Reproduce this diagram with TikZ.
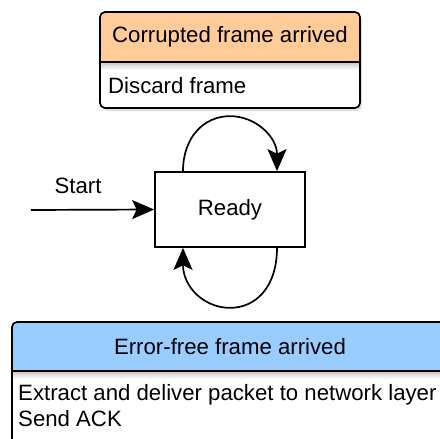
\documentclass[tikz,border=0pt]{standalone}
\usepackage{fontspec}
\setmainfont{Liberation Sans}
\usetikzlibrary{arrows.meta}
\definecolor{headorange}{HTML}{FFCC99}
\definecolor{headblue}{HTML}{99CCFF}
\begin{document}
\begin{tikzpicture}[x=1pt,y=1pt,
  every node/.style={font=\fontsize{22.2}{26}\selectfont, inner sep=0pt},
  boxframe/.style={draw=black, line width=1.7pt, rounded corners=5pt},
  boxshadow/.style={fill=black, opacity=0.12, rounded corners=5pt},
  statebox/.style={draw=black, line width=1.7pt, fill=white, minimum width=150pt, minimum height=75pt},
  flow/.style={draw=black, line width=1.7pt, -{Stealth[length=22pt, width=19pt, inset=4.5pt]}},
  divider/.style={draw=black, line width=1.7pt}]
\useasboundingbox (0,0) rectangle (440,-439);

% --- action on a corrupted frame ---
\coordinate (cNW) at (100,-12);
\coordinate (cSE) at (360,-108);
\coordinate (cdivL) at (100,-62);
\coordinate (cdivR) at (360,-62);
\fill[boxshadow] ([xshift=2pt,yshift=-3pt]cNW) rectangle ([xshift=2pt,yshift=-3pt]cSE);
\fill[white, rounded corners=5pt] (cNW) rectangle (cSE);
\fill[headorange, rounded corners=5pt] (cdivL) -- (cNW) -- (cNW -| cSE) [sharp corners] -- (cdivR) -- cycle;
\shade[top color=black!20, bottom color=white] ([yshift=-0.8pt]cdivL) rectangle ([xshift=-0.8pt,yshift=-8pt]cdivR);
\draw[boxframe] (cNW) rectangle (cSE);
\draw[divider] (cdivL) -- (cdivR);
\node (corruptTitle) at (230,-37) {Corrupted frame arrived};
\node[anchor=west] (corruptAct) at (108,-86) {Discard frame};

% --- the single state ---
\node[statebox] (ready) at (230,-209.5) {Ready};
\coordinate (startpt) at (31,-210);
\draw[flow] (startpt) -- (ready.west);
\node (startLabel) at (78,-186) {Start};

% --- self loops: half circles of radius 47 on short vertical legs ---
\coordinate (topPeak) at ([yshift=55pt]ready.north);
\coordinate (botPeak) at ([yshift=-60pt]ready.south);
\draw[flow] ([xshift=-47pt]ready.north) .. controls +(0,34pt) and +(-26pt,0) .. (topPeak)
  .. controls +(26pt,0) and +(0,34pt) .. ([xshift=47pt]ready.north);
\draw[flow] ([xshift=47pt]ready.south) .. controls +(0,-39pt) and +(26pt,0) .. (botPeak)
  .. controls +(-26pt,0) and +(0,-39pt) .. ([xshift=-47pt]ready.south);

% --- action on an error-free frame ---
\coordinate (gNW) at (12,-322);
\coordinate (gSE) at (448,-454);
\coordinate (gdivL) at (12,-371);
\coordinate (gdivR) at (448,-371);
\fill[boxshadow] ([xshift=2pt,yshift=-3pt]gNW) rectangle ([xshift=2pt,yshift=-3pt]gSE);
\fill[white, rounded corners=5pt] (gNW) rectangle (gSE);
\fill[headblue, rounded corners=5pt] (gdivL) -- (gNW) -- (gNW -| gSE) [sharp corners] -- (gdivR) -- cycle;
\shade[top color=black!20, bottom color=white] ([xshift=0.8pt,yshift=-0.8pt]gdivL) rectangle ([yshift=-8pt]gdivR);
\draw[boxframe] (gNW) rectangle (gSE);
\draw[divider] (gdivL) -- (gdivR);
\node (goodTitle) at (230,-347) {Error-free frame arrived};
\node[anchor=north west, align=left] (goodAct) at (18,-384) {Extract and deliver packet to network layer\\Send ACK};
\end{tikzpicture}
\end{document}
